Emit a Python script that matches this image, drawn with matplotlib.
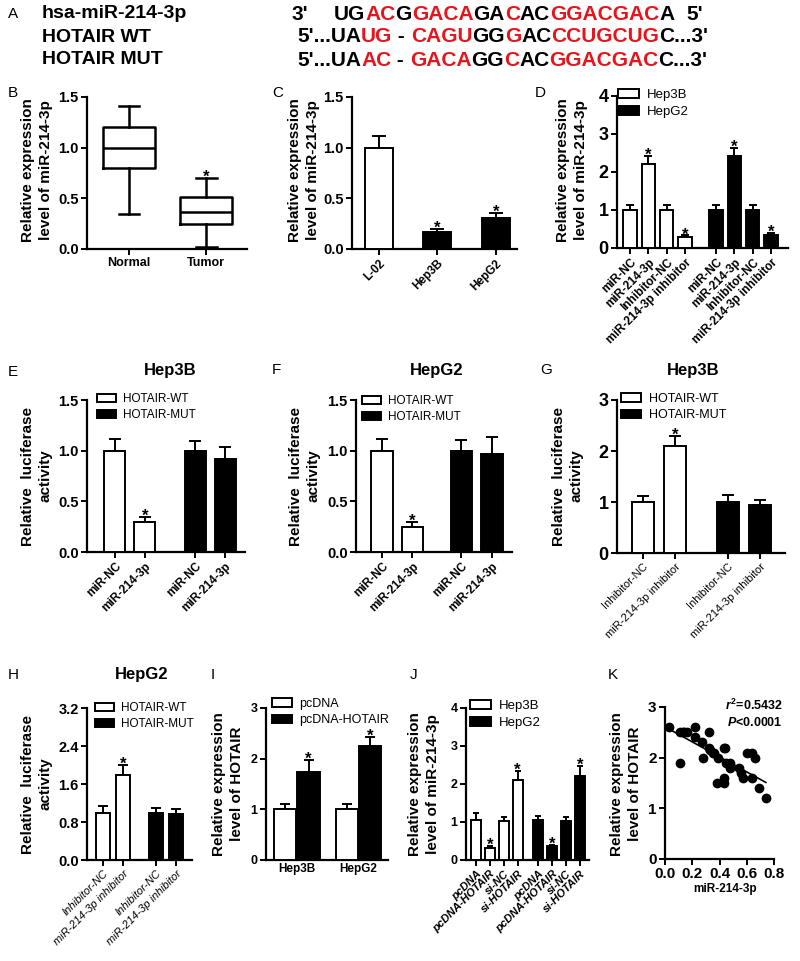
import numpy as np
import matplotlib
matplotlib.use('Agg')
import matplotlib.pyplot as plt
from matplotlib.patches import Patch

plt.rcParams['font.family'] = 'Liberation Sans'
plt.rcParams['mathtext.fontset'] = 'custom'
plt.rcParams['mathtext.it'] = 'Liberation Sans:italic:bold'
plt.rcParams['mathtext.rm'] = 'Liberation Sans:bold'

W, H = 800, 961

# ---- data ----
# A: sequences, (text, is_red) pieces
seq_mir = [("UG", 0), ("AC", 1), ("G", 0), ("GACA", 1), ("GA", 0), ("C", 1), ("AC", 0), ("GGACGAC", 1), ("A", 0)]
seq_wt = [("5'...UA", 0), ("UG", 1), (" - ", 0), ("CAGU", 1), ("GG", 0), ("G", 1), ("AC", 0), ("CCUGCUG", 1), ("C...3'", 0)]
seq_mut = [("5'...UA", 0), ("AC", 1), (" - ", 0), ("GACA", 1), ("GG", 0), ("C", 1), ("AC", 0), ("GGACGAC", 1), ("C...3'", 0)]

# B: box plot
b_groups = ['Normal', 'Tumor']
b_whislo = [0.35, 0.02]
b_q1 = [0.80, 0.25]
b_med = [1.00, 0.37]
b_q3 = [1.20, 0.51]
b_whishi = [1.41, 0.70]

# C
c_labels = ['L-02', 'Hep3B', 'HepG2']
c_vals = [1.0, 0.17, 0.31]
c_err = [0.12, 0.03, 0.05]

# D
d_labels = ['miR-NC', 'miR-214-3p', 'Inhibitor-NC', 'miR-214-3p inhibitor']
d_hep3b = [1.0, 2.2, 1.0, 0.28]
d_hep3b_err = [0.13, 0.22, 0.12, 0.05]
d_hepg2 = [1.0, 2.42, 1.0, 0.35]
d_hepg2_err = [0.14, 0.22, 0.12, 0.04]

# E, F
ef_labels = ['miR-NC', 'miR-214-3p']
e_wt = [1.0, 0.30]
e_wt_err = [0.12, 0.05]
e_mut = [1.0, 0.92]
e_mut_err = [0.10, 0.12]
f_wt = [1.0, 0.25]
f_wt_err = [0.12, 0.05]
f_mut = [1.0, 0.97]
f_mut_err = [0.11, 0.16]

# G, H
gh_labels = ['Inhibitor-NC', 'miR-214-3p inhibitor']
g_wt = [1.0, 2.1]
g_wt_err = [0.12, 0.2]
g_mut = [1.0, 0.94]
g_mut_err = [0.14, 0.09]
h_wt = [1.0, 1.8]
h_wt_err = [0.14, 0.2]
h_mut = [1.0, 0.97]
h_mut_err = [0.1, 0.11]

# I
i_cells = ['Hep3B', 'HepG2']
i_pcdna = [1.0, 1.0]
i_pcdna_err = [0.11, 0.1]
i_hotair = [1.74, 2.25]
i_hotair_err = [0.23, 0.18]

# J
j_labels = ['pcDNA', 'pcDNA-HOTAIR', 'si-NC', 'si-HOTAIR']
j_hep3b = [1.06, 0.32, 1.02, 2.1]
j_hep3b_err = [0.18, 0.04, 0.1, 0.25]
j_hepg2 = [1.06, 0.36, 1.02, 2.22]
j_hepg2_err = [0.1, 0.04, 0.1, 0.25]

# K: scatter
k_x = [0.03, 0.11, 0.13, 0.14, 0.16, 0.22, 0.22, 0.27, 0.32, 0.32, 0.33, 0.35, 0.36,
       0.28, 0.11, 0.39, 0.43, 0.44, 0.45, 0.48, 0.48, 0.54, 0.56, 0.57, 0.60,
       0.64, 0.66, 0.64, 0.38, 0.43, 0.43, 0.69, 0.74]
k_y = [2.6, 2.5, 2.5, 2.5, 2.5, 2.6, 2.4, 2.3, 2.5, 2.2, 2.15, 2.1, 2.1,
       2.0, 1.9, 2.0, 2.2, 2.2, 1.9, 1.9, 1.8, 1.8, 1.7, 1.6, 2.1,
       2.1, 2.0, 1.6, 1.5, 1.5, 1.6, 1.4, 1.2]

fig = plt.figure(figsize=(W / 100, H / 100), dpi=100)
renderer = fig.canvas.get_renderer()


def fx(x):
    return x / W


def fy(y):
    return 1 - y / H


def make_ax(x0, y0, x1, y1):
    ax = fig.add_axes([fx(x0), fy(y1), (x1 - x0) / W, (y1 - y0) / H])
    ax.spines[['top', 'right']].set_visible(False)
    ax.spines[['left', 'bottom']].set_linewidth(1.6)
    ax.tick_params(width=1.4, length=4, direction='out', pad=2)
    return ax


def yticks(ax, ticks, labels, size):
    ax.set_yticks(ticks)
    ax.set_yticklabels(labels, fontsize=size, fontweight='bold')
    ax.set_ylim(ticks[0], ticks[-1])


def xlabels(ax, pos, labels, size, weight='bold', style='normal', rot=45):
    ax.set_xticks(pos)
    if rot:
        ax.set_xticklabels(labels, rotation=rot, ha='right', rotation_mode='anchor',
                           fontsize=size, fontweight=weight, fontstyle=style)
    else:
        ax.set_xticklabels(labels, fontsize=size, fontweight=weight, fontstyle=style)


def draw_bars(ax, x, vals, errs, fill, width, stars, cap=4):
    ax.bar(x, vals, width, color=fill, edgecolor='k', linewidth=1.4, zorder=3)
    ax.errorbar(x, vals, yerr=[np.zeros(len(vals)), errs], fmt='none', ecolor='k',
                elinewidth=1.4, capsize=cap, capthick=1.4, zorder=2)
    for xi, v, e, s in zip(x, vals, errs, stars):
        if s:
            ax.annotate('*', (xi, v + e), xytext=(0, -5), textcoords='offset points',
                        ha='center', va='bottom', fontsize=12, fontweight='bold')


def add_legend(ax, labels, x, y, size):
    handles = [Patch(facecolor='white', edgecolor='k', linewidth=1.4),
               Patch(facecolor='black', edgecolor='k', linewidth=1.4)]
    ax.legend(handles, labels, loc='upper left', bbox_to_anchor=(fx(x), fy(y)),
              bbox_transform=fig.transFigure, frameon=False, fontsize=size,
              handlelength=1.6, handleheight=0.7, handletextpad=0.6,
              labelspacing=0.35, borderpad=0, borderaxespad=0)


def ylab(x, y, text, size=11):
    fig.text(fx(x), fy(y), text, rotation=90, ha='center', va='center', fontsize=size,
             fontweight='bold', linespacing=1.35, multialignment='center')


def letter(x, y, s):
    fig.text(fx(x), fy(y), s, fontsize=11, ha='left', va='center')


def title(x, y, s):
    fig.text(fx(x), fy(y), s, fontsize=12, fontweight='bold', ha='center', va='center')


def seq_line(x, y, parts, size=15):
    for s, red in parts:
        t = fig.text(fx(x), fy(y), s, fontsize=size, fontweight='bold', va='center',
                     color='#e8141b' if red else 'black')
        x += t.get_window_extent(renderer).width


# ---- A ----
letter(8, 14, 'A')
for yy, name in zip([14, 37, 60], ['hsa-miR-214-3p', 'HOTAIR WT', 'HOTAIR MUT']):
    fig.text(fx(42), fy(yy), name, fontsize=14, fontweight='bold', va='center')
fig.text(fx(292), fy(14), "3'", fontsize=15, fontweight='bold', va='center')
seq_line(334, 14, seq_mir)
fig.text(fx(686), fy(14), "5'", fontsize=15, fontweight='bold', va='center')
seq_line(297, 37, seq_wt)
seq_line(297, 60, seq_mut)

# ---- B ----
letter(8, 93, 'B')
ax = make_ax(87, 97, 247, 249)
stats = [dict(whislo=a, q1=b, med=c, q3=d, whishi=e, label=l)
         for a, b, c, d, e, l in zip(b_whislo, b_q1, b_med, b_q3, b_whishi, b_groups)]
lp = dict(linewidth=1.8, color='k')
ax.bxp(stats, positions=[1, 2], widths=0.675, capwidths=0.27, showfliers=False,
       boxprops=lp, medianprops=lp, whiskerprops=lp, capprops=lp)
ax.set_xlim(0.455, 2.53)
xlabels(ax, [1, 2], b_groups, 9, rot=0)
yticks(ax, [0, 0.5, 1.0, 1.5], ['0.0', '0.5', '1.0', '1.5'], 10.5)
ax.annotate('*', (2, b_whishi[1]), xytext=(0, -5), textcoords='offset points',
            ha='center', va='bottom', fontsize=12, fontweight='bold')
ylab(37, 170, 'Relative expression\nlevel of miR-214-3p')

# ---- C ----
letter(272, 93, 'C')
ax = make_ax(352, 97, 517, 249)
draw_bars(ax, [0], c_vals[:1], c_err[:1], 'white', 0.48, [0], cap=5)
draw_bars(ax, [1, 2], c_vals[1:], c_err[1:], 'black', 0.48, [1, 1], cap=5)
ax.set_xlim(-0.46, 2.36)
xlabels(ax, [0, 1, 2], c_labels, 8.5)
yticks(ax, [0, 0.5, 1.0, 1.5], ['0.0', '0.5', '1.0', '1.5'], 10.5)
ylab(304, 170, 'Relative expression\nlevel of miR-214-3p')

# ---- D ----
letter(535, 93, 'D')
ax = make_ax(617, 96, 788, 248)
draw_bars(ax, [0, 1, 2, 3], d_hep3b, d_hep3b_err, 'white', 0.72, [0, 1, 0, 1], cap=3)
draw_bars(ax, [4.7, 5.7, 6.7, 7.7], d_hepg2, d_hepg2_err, 'black', 0.72, [0, 1, 0, 1], cap=3)
ax.set_xlim(-0.71, 8.63)
xlabels(ax, [0, 1, 2, 3, 4.7, 5.7, 6.7, 7.7], d_labels * 2, 8.5)
yticks(ax, [0, 1, 2, 3, 4], ['0', '1', '2', '3', '4'], 13)
add_legend(ax, ['Hep3B', 'HepG2'], 618, 89, 9.5)
ylab(572, 170, 'Relative expression\nlevel of miR-214-3p')

# ---- E ----
letter(8, 372, 'E')
title(170, 370, 'Hep3B')
ax = make_ax(87, 400, 245, 552)
draw_bars(ax, [0, 1], e_wt, e_wt_err, 'white', 0.7, [0, 1], cap=4.5)
draw_bars(ax, [2.67, 3.67], e_mut, e_mut_err, 'black', 0.7, [0, 0], cap=4.5)
ax.set_xlim(-0.93, 4.33)
xlabels(ax, [0, 1, 2.67, 3.67], ef_labels * 2, 8.5)
yticks(ax, [0, 0.5, 1.0, 1.5], ['0.0', '0.5', '1.0', '1.5'], 10.5)
add_legend(ax, ['HOTAIR-WT', 'HOTAIR-MUT'], 97, 393, 8.5)
ylab(37, 476, 'Relative  luciferase\nactivity')

# ---- F ----
letter(272, 370, 'F')
title(437, 370, 'HepG2')
ax = make_ax(356, 400, 512, 552)
draw_bars(ax, [0, 1], f_wt, f_wt_err, 'white', 0.7, [0, 1], cap=4.5)
draw_bars(ax, [2.6, 3.6], f_mut, f_mut_err, 'black', 0.7, [0, 0], cap=4.5)
ax.set_xlim(-0.85, 4.26)
xlabels(ax, [0, 1, 2.6, 3.6], ef_labels * 2, 8.5)
yticks(ax, [0, 0.5, 1.0, 1.5], ['0.0', '0.5', '1.0', '1.5'], 10.5)
add_legend(ax, ['HOTAIR-WT', 'HOTAIR-MUT'], 362, 395, 8.5)
ylab(305, 476, 'Relative  luciferase\nactivity')

# ---- G ----
letter(540, 370, 'G')
title(693, 370, 'Hep3B')
ax = make_ax(617, 400, 785, 553)
draw_bars(ax, [0, 1], g_wt, g_wt_err, 'white', 0.66, [0, 1], cap=4.5)
draw_bars(ax, [2.65, 3.65], g_mut, g_mut_err, 'black', 0.66, [0, 0], cap=4.5)
ax.set_xlim(-0.81, 4.43)
xlabels(ax, [0, 1, 2.65, 3.65], gh_labels * 2, 8, weight='normal')
yticks(ax, [0, 1, 2, 3], ['0', '1', '2', '3'], 13)
add_legend(ax, ['HOTAIR-WT', 'HOTAIR-MUT'], 621, 393, 9)
ylab(568, 476, 'Relative  luciferase\nactivity')

# ---- H ----
letter(8, 675, 'H')
title(142, 675, 'HepG2')
ax = make_ax(87, 708, 192, 860)
draw_bars(ax, [0, 1], h_wt, h_wt_err, 'white', 0.7, [0, 1], cap=3.5)
draw_bars(ax, [2.65, 3.65], h_mut, h_mut_err, 'black', 0.7, [0, 0], cap=3.5)
ax.set_xlim(-0.8, 4.45)
xlabels(ax, [0, 1, 2.65, 3.65], gh_labels * 2, 8, weight='normal', style='italic')
yticks(ax, [0, 0.8, 1.6, 2.4, 3.2], ['0.0', '0.8', '1.6', '2.4', '3.2'], 10.5)
add_legend(ax, ['HOTAIR-WT', 'HOTAIR-MUT'], 95, 702, 8.5)
ylab(37, 784, 'Relative  luciferase\nactivity')

# ---- I ----
letter(211, 675, 'I')
ax = make_ax(266, 708, 388, 860)
draw_bars(ax, [-0.19, 0.81], i_pcdna, i_pcdna_err, 'white', 0.36, [0, 0], cap=3.5)
draw_bars(ax, [0.19, 1.19], i_hotair, i_hotair_err, 'black', 0.36, [1, 1], cap=3.5)
ax.set_xlim(-0.5, 1.48)
xlabels(ax, [0, 1], i_cells, 8.5, rot=0)
ax.tick_params(axis='x', length=0)
yticks(ax, [0, 1, 2, 3], ['0', '1', '2', '3'], 9)
add_legend(ax, ['pcDNA', 'pcDNA-HOTAIR'], 272, 698, 9)
ylab(228, 784, 'Relative expression\nlevel of HOTAIR')

# ---- J ----
letter(410, 675, 'J')
ax = make_ax(466, 708, 589, 860)
draw_bars(ax, [0, 1, 2, 3], j_hep3b, j_hep3b_err, 'white', 0.72, [0, 1, 0, 1], cap=2.5)
draw_bars(ax, [4.5, 5.5, 6.5, 7.5], j_hepg2, j_hepg2_err, 'black', 0.72, [0, 1, 0, 1], cap=2.5)
ax.set_xlim(-0.72, 8.15)
xlabels(ax, [0, 1, 2, 3, 4.5, 5.5, 6.5, 7.5], j_labels * 2, 8, style='italic')
yticks(ax, [0, 1, 2, 3, 4], ['0', '1', '2', '3', '4'], 9)
add_legend(ax, ['Hep3B', 'HepG2'], 470, 700, 9.5)
ylab(424, 784, 'Relative expression\nlevel of miR-214-3p')

# ---- K ----
letter(608, 675, 'K')
ax = make_ax(665, 707, 774, 859)
kx = np.array(k_x)
ky = np.array(k_y)
ax.scatter(kx, ky, s=36, color='k', zorder=3, clip_on=False)
slope, icept = np.polyfit(kx, ky, 1)
xl = np.array([kx.min(), kx.max()])
ax.plot(xl, slope * xl + icept, color='k', lw=1.2)
ax.set_xlim(0, 0.8)
ax.set_xticks([0, 0.2, 0.4, 0.6, 0.8])
ax.set_xticklabels(['0.0', '0.2', '0.4', '0.6', '0.8'], fontsize=11, fontweight='bold')
yticks(ax, [0, 1, 2, 3], ['0', '1', '2', '3'], 11)
ax.text(1.08, 1.06, '$r^2$=0.5432\n$P$<0.0001', transform=ax.transAxes, ha='right', va='top',
        fontsize=9, fontweight='bold', linespacing=1.25)
fig.text(fx(725), fy(889), 'miR-214-3p', fontsize=8.5, fontweight='bold', ha='center', va='center')
ylab(626, 784, 'Relative expression\nlevel of HOTAIR')

fig.savefig('out.png', dpi=100)
